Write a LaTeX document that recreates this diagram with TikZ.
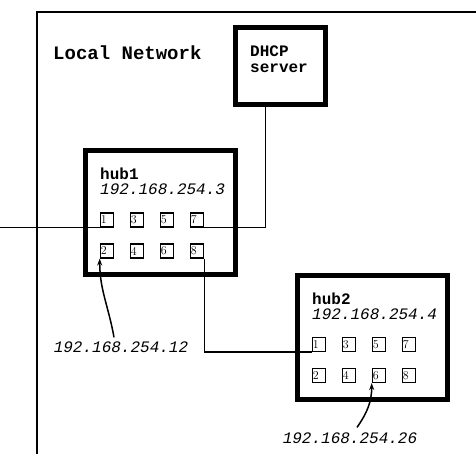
\documentclass[tikz,border=0pt]{standalone}
\usepackage{fontspec}
\setmonofont{Liberation Mono}
\usetikzlibrary{positioning, arrows.meta}

\begin{document}
\begin{tikzpicture}[x=1pt, y=1pt,
    thickBox/.style={draw, line width=5pt, inner sep=0pt},
    hubBox/.style={thickBox, minimum width=150pt, minimum height=124pt},
    portBox/.style={draw, fill=white, line width=1.1pt, minimum height=14pt, text width=12.5pt,
        inner sep=0.5pt, align=left, font=\fontsize{12}{12}\selectfont},
    wire/.style={line width=1.5pt},
    nameText/.style={font=\fontsize{16}{16}\selectfont\ttfamily\bfseries, inner sep=0pt, anchor=base west},
    ipText/.style={font=\fontsize{16}{16}\selectfont\ttfamily\itshape, inner sep=0pt}]
    \useasboundingbox (0,0) rectangle (476,-454);
    \draw[line width=1.5pt] (480,-12) -- (37,-12) -- (37,-460);

    \node[nameText, font=\fontsize{19}{19}\selectfont\ttfamily\bfseries] (title) at (53,-60) {Local Network};

    \node[thickBox, minimum width=90pt, minimum height=77pt] (dhcp) at (280.5,-66) {};
    \node[nameText, align=left, anchor=north west] (dhcpName) at (250,-46) {DHCP\\server};

    \node[hubBox] (hub1) at (160,-212.5) {};
    \node[hubBox] (hub2) at (372,-337) {};
    \foreach \hub in {hub1,hub2} {
        \node[nameText] (\hub Name) at ([shift={(17.5,-32)}]\hub.north west) {\hub};
        \foreach \n [evaluate=\n as \cx using {24.5+30*int((\n-1)/2)},
                     evaluate=\n as \cy using {72+31*mod(\n-1,2)}] in {1,...,8}
            \node[portBox] (\hub p\n) at ([shift={(\cx,-\cy)}]\hub.north west) {\n};
    }
    \node[ipText, anchor=base west] (hub1Ip) at ([yshift=-15]hub1Name.base west) {192.168.254.3};
    \node[ipText, anchor=base west] (hub2Ip) at ([yshift=-15]hub2Name.base west) {192.168.254.4};

    \coordinate (uplink) at ([xshift=-100]hub1p1.south west);
    \draw[wire] (uplink) -- (hub1p1.south west);
    \draw[wire] (hub1p7.south east) -| (dhcp.250);
    \draw[wire] (hub1p8.south east) |- (hub2p1.south west);

    \node[ipText] (ip12) at (121,-347) {192.168.254.12};
    \node[ipText] (ip26) at (350,-438) {192.168.254.26};
    \draw[wire, -{Stealth[length=7pt, width=5pt]}] ([shift={(-7,4)}]ip12.north) to[out=100, in=-90] (hub1p2.south west);
    \draw[wire, -{Stealth[length=7pt, width=5pt]}] ([shift={(7,5)}]ip26.north) to[out=55, in=-90] (hub2p6.south west);
\end{tikzpicture}
\end{document}
